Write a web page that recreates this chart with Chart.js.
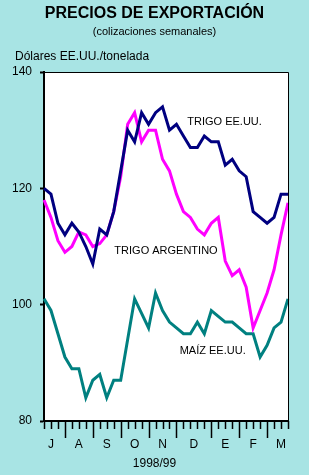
<!DOCTYPE html>
<html><head><meta charset="utf-8">
<script src="https://cdn.jsdelivr.net/npm/chart.js@4/dist/chart.umd.min.js"></script>
<style>html,body{margin:0;padding:0;background:#a8e4e4;}#wrap{width:309px;height:475px;position:relative;}</style>
</head><body><div id="wrap"><canvas id="c"></canvas></div>
<script>
// Weekly quotations, July 1998 - March 1999
const weeks = ['J1','J2','J3','J4','A1','A2','A3','A4','S1','S2','S3','S4','O1','O2','O3','O4',
               'N1','N2','N3','N4','D1','D2','D3','D4','D5','E1','E2','E3','E4','F1','F2','F3','F4','M1','M2','M3'];
const trigoEEUU = [120,119,114,112,114,112.5,110,107,113,112,116,123,130,128,133,131,133,134,130,131,
                   129,127,127,129,128,128,124,125,123,122,116,115,114,115,119,119];
const trigoArgentino = [118,115,111,109,110,112.5,112,110,110.5,112,116,122,131,133,128,130,130,125,123,119,
                        116,115,113,112,114,115,107.5,105,106,103,96,99,102,106,112,117.5];
const maizEEUU = [101,99,95,91,89,89,84,87,88,84,87,87,94,101,98.5,96,102,99,97,96,
                  95,95,97,95,99,98,97,97,96,95,95,91,93,96,97,101];
const monthLabels = ['J','A','S','O','N','D','E','F','M'];
const monthBounds = [-1,3,7,11,15,19,24,28,32,36]; // week indices where months change
const yTicks = [80,100,120,140];
const seriesNames = ['TRIGO EE.UU.','TRIGO ARGENTINO','MAÍZ EE.UU.'];
const seriesLabelAt = [[25.9,131.4],[17.5,109.2],[24.2,92.1]]; // [week index, value]

const BG = '#a8e4e4';
const FONT = '"Liberation Sans", Arial, sans-serif';

const deco = {
  id: 'deco',
  beforeDraw(chart) {
    const {ctx, chartArea: a} = chart;
    ctx.save();
    ctx.fillStyle = BG; ctx.fillRect(0, 0, chart.width, chart.height);
    ctx.fillStyle = '#fff'; ctx.fillRect(a.left, a.top, a.right - a.left, a.bottom - a.top);
    ctx.restore();
  },
  afterDraw(chart) {
    const {ctx, chartArea: a, scales: {x, y}} = chart;
    ctx.save();
    ctx.strokeStyle = '#000'; ctx.lineWidth = 1;
    ctx.beginPath();
    ctx.moveTo(a.left, a.top + 0.5); ctx.lineTo(a.right + 0.5, a.top + 0.5); ctx.lineTo(a.right + 0.5, a.bottom);
    ctx.stroke();
    // x ticks
    ctx.lineWidth = 1.5;
    for (let i = 0; i < weeks.length; i++) {
      const px = Math.round(x.getPixelForValue(i)) + 0.5;
      const major = monthBounds.includes(i);
      ctx.beginPath(); ctx.moveTo(px, a.bottom); ctx.lineTo(px, a.bottom + (major ? 17 : 8)); ctx.stroke();
    }
    ctx.fillStyle = '#000';
    ctx.textBaseline = 'middle';
    ctx.textAlign = 'center';
    ctx.font = '12px ' + FONT;
    for (let m = 0; m < monthLabels.length; m++) {
      const mid = (monthBounds[m] + monthBounds[m + 1]) / 2;
      ctx.fillText(monthLabels[m], x.getPixelForValue(mid), a.bottom + 24);
    }
    ctx.fillText('1998/99', chart.width / 2, a.bottom + 43);
    // title
    ctx.font = 'bold 16px ' + FONT;
    ctx.fillText('PRECIOS DE EXPORTACIÓN', chart.width / 2, 14);
    ctx.font = '11px ' + FONT;
    ctx.fillText('(colizaciones semanales)', chart.width / 2, 31.5);
    ctx.textAlign = 'left';
    ctx.font = '12px ' + FONT;
    ctx.fillText('Dólares EE.UU./tonelada', 15, 56.5);
    // series labels
    ctx.textAlign = 'center';
    ctx.font = '11px ' + FONT;
    seriesNames.forEach((n, i) => {
      ctx.fillText(n, x.getPixelForValue(seriesLabelAt[i][0]), y.getPixelForValue(seriesLabelAt[i][1]));
    });
    ctx.restore();
  }
};

new Chart(document.getElementById('c'), {
  type: 'line',
  data: {
    labels: weeks,
    datasets: [
      {label: seriesNames[0], data: trigoEEUU, borderColor: '#000080'},
      {label: seriesNames[1], data: trigoArgentino, borderColor: '#ff00ff'},
      {label: seriesNames[2], data: maizEEUU, borderColor: '#008080'}
    ].map(d => Object.assign(d, {borderWidth: 3, pointRadius: 0, tension: 0, fill: false}))
  },
  options: {
    responsive: true, maintainAspectRatio: false, animation: false,
    layout: {padding: {top: 72, right: 21, left: 0, bottom: 0}},
    plugins: {legend: {display: false}, tooltip: {enabled: false}},
    scales: {
      x: {
        type: 'category', offset: false,
        grid: {display: false}, ticks: {display: false},
        border: {display: true, color: '#000', width: 2},
        afterFit(s) { s.height = 54; }
      },
      y: {
        min: 80, max: 140,
        afterBuildTicks(s) { s.ticks = yTicks.map(v => ({value: v})); },
        ticks: {color: '#000', font: {size: 12, family: FONT}, padding: 8},
        grid: {display: true, drawOnChartArea: false, drawTicks: true, tickLength: 4, tickWidth: 2, tickColor: '#000'},
        border: {display: true, color: '#000', width: 2},
        afterFit(s) { s.width = 44; }
      }
    }
  },
  plugins: [deco]
});
</script>
</body></html>
